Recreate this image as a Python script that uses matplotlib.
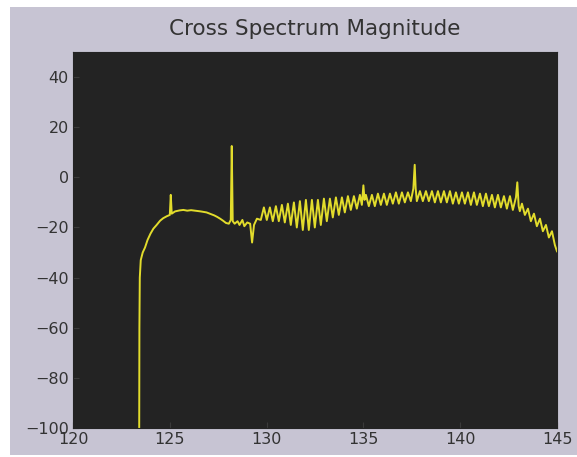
import matplotlib
matplotlib.use("Agg")
import matplotlib.pyplot as plt
from matplotlib.patches import Rectangle

# onset of the spectrum: vertical edge, rise, flat shelf and the two early lines
onset_f = [123.42, 123.43, 123.45, 123.50, 123.60, 123.72, 123.85, 124.00, 124.15,
           124.32, 124.50, 124.66, 124.85, 125.00, 125.05, 125.10, 125.27, 125.50,
           125.70, 125.90, 126.10, 126.40, 126.60, 126.90, 127.10, 127.30, 127.45,
           127.60, 127.75, 127.90, 128.05, 128.15, 128.20, 128.25, 128.35, 128.50,
           128.60, 128.75, 128.85, 129.00, 129.15, 129.25, 129.35, 129.50]
onset_db = [-100, -60, -40, -33, -30, -28, -25, -22.5, -20.5,
            -19, -17.3, -16.3, -15.5, -15, -7, -14.5, -13.6, -13.2,
            -13, -13.3, -13.1, -13.4, -13.6, -14, -14.6, -15.2, -15.8,
            -16.5, -17.3, -18.2, -18.5, -17, 12.5, -17.5, -18.5, -17.5,
            -19, -17, -19.5, -18, -18.5, -26, -19, -16.5]

# ripple band up to the end of the window (with the lines at 135, 137.65, 142.95)
ripple_f = [129.70, 129.86, 130.01, 130.17, 130.32, 130.48, 130.63, 130.79, 130.94, 131.10,
            131.25, 131.41, 131.56, 131.72, 131.87, 132.03, 132.18, 132.34, 132.49, 132.65,
            132.80, 132.96, 133.11, 133.27, 133.42, 133.58, 133.73, 133.89, 134.04, 134.20,
            134.35, 134.51, 134.66, 134.82, 134.92, 135.00, 135.06, 135.13, 135.28, 135.44,
            135.59, 135.75, 135.90, 136.06, 136.21, 136.37, 136.52, 136.68, 136.83, 136.99,
            137.14, 137.30, 137.45, 137.58, 137.65, 137.70, 137.76, 137.92, 138.07, 138.23,
            138.38, 138.54, 138.69, 138.85, 139.00, 139.16, 139.31, 139.47, 139.62, 139.78,
            139.93, 140.09, 140.24, 140.40, 140.55, 140.71, 140.86, 141.02, 141.17, 141.33,
            141.48, 141.64, 141.79, 141.95, 142.10, 142.26, 142.41, 142.57, 142.72, 142.88,
            142.95, 143.02, 143.08, 143.19, 143.34, 143.50, 143.65, 143.81, 143.96, 144.12,
            144.27, 144.43, 144.58, 144.74, 144.89, 145.00]
ripple_db = [-17, -12, -17, -12, -17.5, -11.5, -17.5, -11, -18, -10.5,
             -19, -10, -20, -9.5, -21, -9, -21, -9, -20, -9,
             -19, -8.5, -17.5, -8.5, -16, -8, -15, -8, -14, -7.5,
             -13, -7.5, -12.5, -7, -11, -3.2, -9, -7, -11.5, -7,
             -11.5, -6.5, -11, -6.5, -11, -6.5, -10.5, -6, -10.5, -6,
             -10, -6, -9.5, -4.5, 5, -4.5, -9.5, -5.5, -9.5, -5.5,
             -9.5, -5.5, -10, -5.5, -10, -5.5, -10, -5.5, -10.5, -6,
             -10.5, -6, -10.5, -6, -11, -6, -11, -6.5, -11.5, -6.5,
             -11.5, -7, -12, -7, -12, -7.5, -12.5, -7.5, -13, -8,
             -2, -11.5, -13.5, -10.5, -15, -12.5, -17.5, -14.5, -19.5, -16.5,
             -21.5, -19, -24, -21.5, -27, -29.5]

x_ticks = [120, 125, 130, 135, 140, 145]
y_ticks = [-100, -80, -60, -40, -20, 0, 20, 40]

bg = "#c7c4d3"
text_c = "#333333"

fig = plt.figure(figsize=(5.77, 4.57), dpi=100, facecolor="white")
# grey backing sheet, leaving a thin white margin at the left and top
fig.patches.append(Rectangle((10 / 577, 2 / 457), 1 - 10 / 577, 448 / 457,
                             transform=fig.transFigure, facecolor=bg,
                             edgecolor="none", zorder=-10))

ax = fig.add_axes([73 / 577, 1 - 428 / 457, 484 / 577, 376 / 457])
ax.set_zorder(1)
ax.set_facecolor("#232323")
ax.plot(onset_f + ripple_f, onset_db + ripple_db, color="#e2dc2c", lw=1.4)

ax.set_xlim(120, 145)
ax.set_ylim(-100, 50)
ax.set_xticks(x_ticks)
ax.set_yticks(y_ticks)
ax.tick_params(direction="in", length=4, color="#3a3a3a", labelsize=11.5,
               labelcolor=text_c, pad=3)
for s in ax.spines.values():
    s.set_color("#232323")

ax.set_title("Cross Spectrum Magnitude", fontsize=15.5, color=text_c, pad=12)

fig.savefig("out.png", dpi=100, facecolor=fig.get_facecolor())
